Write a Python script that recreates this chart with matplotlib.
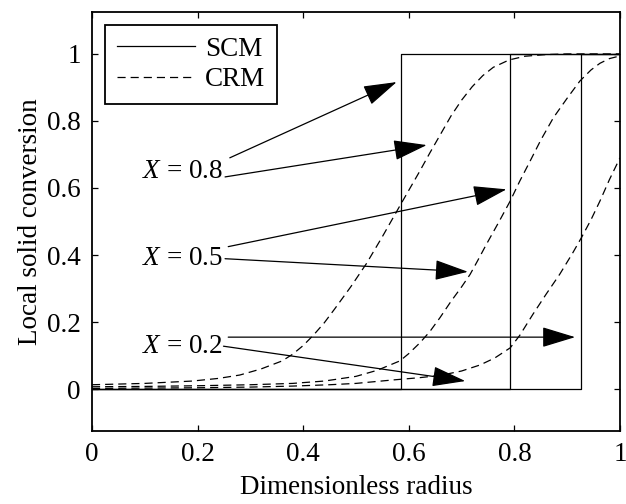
import matplotlib
matplotlib.use("Agg")
import matplotlib.pyplot as plt

# ---------------- data ----------------
scm_radii = [0.585, 0.792, 0.927]          # X = 0.8, 0.5, 0.2

crm1_x = [0.0, 0.10, 0.19, 0.24, 0.28, 0.32, 0.36, 0.38, 0.40, 0.42, 0.44, 0.46, 0.49,
          0.52, 0.55, 0.585, 0.62, 0.64, 0.66, 0.68, 0.70, 0.72, 0.74, 0.76, 0.79,
          0.82, 0.86, 0.90, 1.0]
crm1_y = [0.013, 0.017, 0.024, 0.032, 0.042, 0.060, 0.084, 0.104, 0.130, 0.162, 0.198,
          0.240, 0.305, 0.375, 0.455, 0.552, 0.648, 0.705, 0.760, 0.815, 0.862, 0.902,
          0.935, 0.960, 0.982, 0.993, 0.998, 1.0, 1.0]

crm2_x = [0.0, 0.10, 0.20, 0.30, 0.38, 0.44, 0.50, 0.54, 0.583, 0.60, 0.621, 0.64, 0.659,
          0.68, 0.70, 0.716, 0.73, 0.747, 0.77, 0.792, 0.81, 0.83, 0.85, 0.874, 0.90,
          0.924, 0.945, 0.962, 0.98, 1.0]
crm2_y = [0.007, 0.008, 0.010, 0.013, 0.017, 0.024, 0.038, 0.056, 0.084, 0.106, 0.138,
          0.172, 0.213, 0.262, 0.305, 0.342, 0.382, 0.432, 0.497, 0.561, 0.620, 0.681,
          0.743, 0.810, 0.868, 0.919, 0.952, 0.972, 0.986, 0.994]

crm3_x = [0.0, 0.10, 0.20, 0.30, 0.38, 0.45, 0.50, 0.568, 0.62, 0.66, 0.70, 0.735,
          0.763, 0.792, 0.81, 0.835, 0.86, 0.886, 0.91, 0.927, 0.945, 0.962, 0.98, 1.0]
crm3_y = [0.002, 0.003, 0.004, 0.006, 0.009, 0.013, 0.017, 0.027, 0.034, 0.041, 0.054,
          0.072, 0.093, 0.123, 0.160, 0.223, 0.283, 0.343, 0.405, 0.452, 0.505, 0.561,
          0.625, 0.690]

x_ticks = [0, 0.2, 0.4, 0.6, 0.8, 1.0]
x_tick_labels = ["0", "0.2", "0.4", "0.6", "0.8", "1"]
y_ticks = [0, 0.2, 0.4, 0.6, 0.8, 1.0]
y_tick_labels = ["0", "0.2", "0.4", "0.6", "0.8", "1"]

labels_X = ["0.8", "0.5", "0.2"]
label_pos = [(0.248, 0.648), (0.248, 0.391), (0.248, 0.128)]
# arrows: (start, end) for SCM and CRM for each X
arrows = [
    [((0.261, 0.690), (0.577, 0.916)), ((0.252, 0.633), (0.634, 0.728))],
    [((0.258, 0.425), (0.785, 0.596)), ((0.252, 0.389), (0.712, 0.350))],
    [((0.258, 0.155), (0.915, 0.155)), ((0.249, 0.128), (0.707, 0.024))],
]

# ---------------- style ----------------
plt.rcParams["font.family"] = ["Liberation Serif", "DejaVu Serif"]
plt.rcParams["mathtext.fontset"] = "custom"
plt.rcParams["mathtext.it"] = "Liberation Serif:italic"
plt.rcParams["mathtext.rm"] = "Liberation Serif"
FS = 19.5

fig = plt.figure(figsize=(6.26, 5.04), dpi=100)
ax = fig.add_axes([92 / 626, 1 - 431 / 504, (620 - 92) / 626, (431 - 12) / 504])

dash = (0, (6.5, 4.0))
for i, rc in enumerate(scm_radii):
    ax.plot([0, rc, rc, 1], [0, 0, 1, 1], color="black", lw=0.9,
            label="SCM" if i == 0 else None)
for i, (cx, cy) in enumerate([(crm1_x, crm1_y), (crm2_x, crm2_y), (crm3_x, crm3_y)]):
    ax.plot(cx, cy, color="black", lw=0.9, linestyle=dash,
            label="CRM" if i == 0 else None)

for lab, pos, arr in zip(labels_X, label_pos, arrows):
    ax.text(pos[0], pos[1], r"$X$ = " + lab, fontsize=FS, ha="right", va="center")
    for (s, e) in arr:
        ax.annotate("", xy=e, xytext=s,
                    arrowprops=dict(arrowstyle="-|>,head_length=1.05,head_width=0.32",
                                    mutation_scale=20, color="black", lw=0.9,
                                    shrinkA=0, shrinkB=0))

ax.set_xlim(0, 1)
ax.set_ylim(-0.125, 1.125)
ax.set_xticks(x_ticks)
ax.set_xticklabels(x_tick_labels)
ax.set_yticks(y_ticks)
ax.set_yticklabels(y_tick_labels)
ax.tick_params(direction="in", length=4.5, width=0.9, top=True, right=True,
               labelsize=FS, pad=8)
for sp in ax.spines.values():
    sp.set_linewidth(1.3)
ax.set_xlabel("Dimensionless radius", fontsize=FS, labelpad=6)
ax.set_ylabel("Local solid conversion", fontsize=FS, labelpad=3)

leg = ax.legend(loc="upper left", bbox_to_anchor=(0.0237, 0.970), borderaxespad=0,
                fontsize=FS, frameon=True, fancybox=False, edgecolor="black",
                framealpha=1, handlelength=2.9, handletextpad=0.35,
                borderpad=0.45, labelspacing=0.2)
leg.get_frame().set_linewidth(1.3)

fig.savefig("out.png", dpi=100)
